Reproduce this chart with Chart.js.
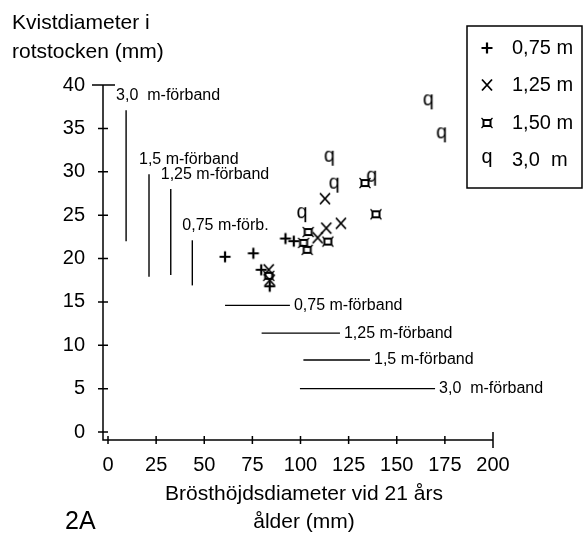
<!DOCTYPE html>
<html>
<head>
<meta charset="utf-8">
<script src="https://cdn.jsdelivr.net/npm/chart.js@4/dist/chart.umd.min.js"></script>
<style>
  html, body { margin: 0; padding: 0; background: #fff; }
  #wrap { width: 588px; height: 534px; }
</style>
</head>
<body>
<div id="wrap"><canvas id="chart" width="588" height="534"></canvas></div>
<script>
// tick labels
const xTicks = [0, 25, 50, 75, 100, 125, 150, 175, 200];
const yTicks = [0, 5, 10, 15, 20, 25, 30, 35, 40];

// series: brösthöjdsdiameter (x), kvistdiameter (y)
const seriesNames = ['0,75 m', '1,25 m', '1,50 m', '3,0  m'];
const pts075 = [[60.8, 20.2], [75.5, 20.6], [79.6, 18.7], [84, 16.8], [92.2, 22.3], [96.5, 22.0]];
const pts125 = [[83.5, 18.7], [84, 17.5], [108.9, 22.4], [113.4, 23.5], [112.7, 26.9], [121, 24.05]];
const pts150 = [[83.5, 18.0], [101.6, 21.8], [103.5, 21.0], [104, 23.05], [114.2, 21.95], [133.5, 28.7], [139.2, 25.1]];
const pts30 = [[100.8, 25], [115, 31.5], [117.5, 28.4], [137, 29.2], [166.4, 38], [173.3, 34.2]];

// range bars, vertical (kvistdiameter) per förband
const vBarLabels = ['3,0  m-förband', '1,5 m-förband', '1,25 m-förband', '0,75 m-förb.'];
const vBarX = [9.4, 21.3, 32.6, 43.8];
const vBarLow = [22.0, 17.9, 18.1, 16.9];
const vBarHigh = [37.1, 29.7, 28.0, 22.1];

// range bars, horizontal (brösthöjdsdiameter) per förband
const hBarLabels = ['0,75 m-förband', '1,25 m-förband', '1,5 m-förband', '3,0  m-förband'];
const hBarY = [14.6, 11.4, 8.3, 5.0];
const hBarLow = [60.8, 79.8, 101.5, 99.7];
const hBarHigh = [94.5, 120.5, 136.1, 169.9];

const FONT = '"Liberation Sans", Arial, sans-serif';

// marker glyphs
function makeGlyph(kind) {
  const c = document.createElement('canvas');
  c.width = 22; c.height = 22;
  const g = c.getContext('2d');
  g.strokeStyle = '#000';
  g.fillStyle = '#000';
  if (kind === '+') {
    g.lineWidth = 2.2;
    g.beginPath();
    g.moveTo(5.5, 11); g.lineTo(16.5, 11);
    g.moveTo(11, 5.5); g.lineTo(11, 16.5);
    g.stroke();
  } else if (kind === 'x') {
    g.lineWidth = 1.8;
    g.beginPath();
    g.moveTo(6, 5.5); g.lineTo(16, 16.5);
    g.moveTo(16, 5.5); g.lineTo(6, 16.5);
    g.stroke();
  } else if (kind === '¤') {
    g.lineWidth = 2;
    g.strokeRect(7.5, 8, 7, 6);
    g.lineWidth = 1.3;
    g.beginPath();
    g.moveTo(7.5, 8); g.lineTo(5.5, 6);
    g.moveTo(14.5, 8); g.lineTo(16.5, 6);
    g.moveTo(7.5, 14); g.lineTo(5.5, 16);
    g.moveTo(14.5, 14); g.lineTo(16.5, 16);
    g.stroke();
  } else {
    g.font = '20px "Liberation Mono", "Courier New", monospace';
    g.textAlign = 'center';
    g.textBaseline = 'alphabetic';
    g.fillText('q', 11, 14);
  }
  return c;
}
const glyphs = ['+', 'x', '¤', 'q'].map(makeGlyph);

const toXY = arr => arr.map(p => ({ x: p[0], y: p[1] }));

const lineSets = [];
vBarX.forEach((x, i) => {
  lineSets.push({
    data: [{ x: x, y: vBarLow[i] }, { x: x, y: vBarHigh[i] }],
    showLine: true, borderColor: '#000', borderWidth: 1.4, pointRadius: 0
  });
});
hBarY.forEach((y, i) => {
  lineSets.push({
    data: [{ x: hBarLow[i], y: y }, { x: hBarHigh[i], y: y }],
    showLine: true, borderColor: '#000', borderWidth: 1.4, pointRadius: 0
  });
});

const markerSets = [pts075, pts125, pts150, pts30].map((pts, i) => ({
  label: seriesNames[i],
  data: toXY(pts),
  pointStyle: glyphs[i],
  pointRadius: 10,
  showLine: false
}));

// axes with ticks crossing the lines
const axesPlugin = {
  id: 'axesPlugin',
  afterDraw(chart) {
    const { ctx, chartArea: a, scales: { x, y } } = chart;
    ctx.save();
    ctx.strokeStyle = '#000';
    ctx.lineWidth = 1.5;
    ctx.beginPath();
    ctx.moveTo(a.left, a.top); ctx.lineTo(a.left, a.bottom); ctx.lineTo(a.right, a.bottom);
    y.ticks.forEach(t => {
      const py = y.getPixelForValue(t.value);
      const last = t.value === yTicks[yTicks.length - 1];
      ctx.moveTo(a.left - (last ? 11 : 5), py);
      ctx.lineTo(a.left + (last ? 12 : 5), py);
    });
    x.ticks.forEach(t => {
      const px = x.getPixelForValue(t.value);
      const last = t.value === xTicks[xTicks.length - 1];
      ctx.moveTo(px, a.bottom - (last ? 8 : 4));
      ctx.lineTo(px, a.bottom + (last ? 8 : 4));
    });
    ctx.stroke();
    ctx.restore();
  }
};

// labels, legend, titles
const textPlugin = {
  id: 'textPlugin',
  afterDraw(chart) {
    const { ctx, scales: { x, y } } = chart;
    ctx.save();
    ctx.fillStyle = '#000';
    ctx.textBaseline = 'middle';
    ctx.textAlign = 'left';
    ctx.font = '16px ' + FONT;
    vBarLabels.forEach((s, i) => {
      ctx.fillText(s, x.getPixelForValue(vBarX[i]) - 10, y.getPixelForValue(vBarHigh[i]) - 15);
    });
    hBarLabels.forEach((s, i) => {
      ctx.fillText(s, x.getPixelForValue(hBarHigh[i]) + 4, y.getPixelForValue(hBarY[i]));
    });

    // y title
    ctx.font = '21px ' + FONT;
    ctx.fillText('Kvistdiameter i', 12, 23);
    ctx.fillText('rotstocken (mm)', 12, 52);

    // x title
    ctx.textAlign = 'center';
    ctx.fillText('Brösthöjdsdiameter vid 21 års', 304, 494);
    ctx.fillText('ålder (mm)', 304, 522);

    ctx.textAlign = 'left';
    ctx.font = '25px ' + FONT;
    ctx.fillText('2A', 65, 522);

    // legend
    ctx.strokeStyle = '#000';
    ctx.lineWidth = 1.5;
    ctx.strokeRect(467, 26, 115, 162);
    ctx.font = '20px ' + FONT;
    const rows = [48, 85, 123, 160];
    seriesNames.forEach((s, i) => {
      ctx.drawImage(glyphs[i], 487 - 11, rows[i] - 11);
      ctx.fillText(s, 512, rows[i]);
    });
    ctx.restore();
  }
};

new Chart(document.getElementById('chart'), {
  type: 'scatter',
  data: { datasets: lineSets.concat(markerSets) },
  options: {
    responsive: false,
    animation: false,
    devicePixelRatio: 1,
    layout: { padding: { top: 85, right: 95, bottom: 0, left: 0 } },
    plugins: { legend: { display: false }, tooltip: { enabled: false } },
    scales: {
      x: {
        type: 'linear', min: -2.6, max: 200,
        afterBuildTicks: s => { s.ticks = xTicks.map(v => ({ value: v })); },
        afterFit: s => { s.height = 94; },
        grid: { display: false, drawTicks: false },
        border: { display: false },
        ticks: { color: '#000', padding: 13, font: { family: FONT, size: 20 } }
      },
      y: {
        type: 'linear', min: -0.92, max: 40,
        afterBuildTicks: s => { s.ticks = yTicks.map(v => ({ value: v })); },
        afterFit: s => { s.width = 103; },
        grid: { display: false, drawTicks: false },
        border: { display: false },
        ticks: { color: '#000', padding: 18, font: { family: FONT, size: 20 } }
      }
    }
  },
  plugins: [axesPlugin, textPlugin]
});
</script>
</body>
</html>
